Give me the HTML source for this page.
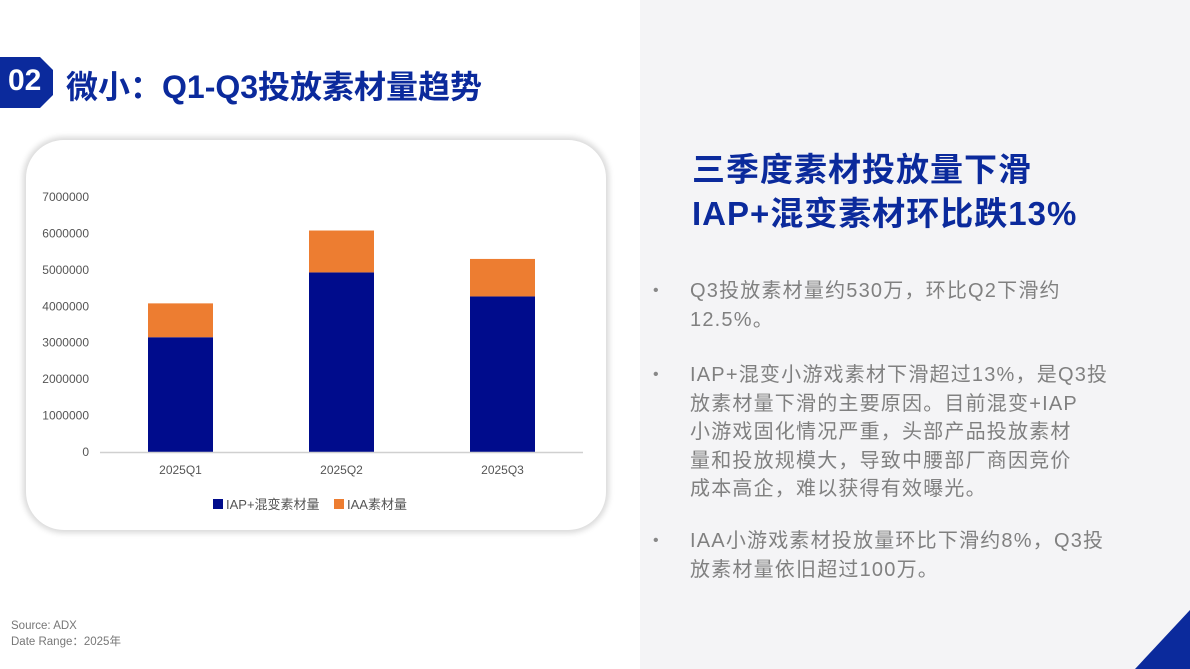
<!DOCTYPE html>
<html><head><meta charset="utf-8"><style>
body{margin:0;width:1190px;height:669px;overflow:hidden;background:#fff;font-family:"Liberation Sans","Noto Sans CJK SC",sans-serif;position:relative}
.abs{position:absolute;white-space:nowrap}
#right{position:absolute;left:640px;top:0;width:550px;height:669px;background:#f4f4f6}
.h{color:#0b2a9c;font-weight:bold;font-size:33px;letter-spacing:1px}
.b{color:#808080;font-size:20px;line-height:28.5px;letter-spacing:1.2px}
.dot{color:#888;font-size:16px}
</style></head><body>
<div id="right"></div>
<svg class="abs" style="left:0;top:0" width="1190" height="669">
<polygon points="0,57 40,57 53,70 53,95 40,108 0,108" fill="#0b2a9c"/>
<polygon points="1190,610 1190,669 1135,669" fill="#0b2a9c"/>
</svg>
<div class="abs" style="left:8px;top:64px;color:#fff;font-weight:bold;font-size:30px">02</div>
<div class="abs" style="left:66px;top:62px;color:#0b2a9c;font-weight:bold;font-size:32px">微小：Q1-Q3投放素材量趋势</div>

<div class="abs" style="left:26px;top:140px;width:580px;height:390px;border-radius:38px;background:#fff;box-shadow:0 0 6px 3px #d9d9d9"></div>
<svg id="chart" class="abs" style="left:0;top:0" width="640" height="560"></svg>

<div class="abs h" style="left:692px;top:143px">三季度素材投放量下滑</div>
<div class="abs h" style="left:692px;top:187px">IAP+混变素材环比跌13%</div>

<div class="abs dot" style="left:653px;top:282px">•</div>
<div class="abs b" style="left:690px;top:277px">Q3投放素材量约530万，环比Q2下滑约<br>12.5%。</div>
<div class="abs dot" style="left:653px;top:366px">•</div>
<div class="abs b" style="left:690px;top:361px">IAP+混变小游戏素材下滑超过13%，是Q3投<br>放素材量下滑的主要原因。目前混变+IAP<br>小游戏固化情况严重，头部产品投放素材<br>量和投放规模大，导致中腰部厂商因竞价<br>成本高企，难以获得有效曝光。</div>
<div class="abs dot" style="left:653px;top:532px">•</div>
<div class="abs b" style="left:690px;top:527px">IAA小游戏素材投放量环比下滑约8%，Q3投<br>放素材量依旧超过100万。</div>

<div class="abs" style="left:11px;top:618px;color:#777;font-size:11.5px;line-height:16px">Source: ADX<br>Date Range：2025年</div>

<script>
const categories=["2025Q1","2025Q2","2025Q3"];
const iapValues=[3150000,4930000,4270000];
const iaaValues=[930000,1150000,1030000];
const yTicks=[0,1000000,2000000,3000000,4000000,5000000,6000000,7000000];
const NS="http://www.w3.org/2000/svg";
const svg=document.getElementById('chart');
const y0=452,y7=197,x0=100,x1=583;
const y=v=>y0-(v/7000000)*(y0-y7);
const bw=65,step=(x1-x0)/categories.length;
const xc=i=>x0+step*(i+0.5);
function el(t,a){const e=document.createElementNS(NS,t);for(const k in a)e.setAttribute(k,a[k]);svg.appendChild(e);return e;}
yTicks.forEach(v=>{const t=el('text',{x:89,y:y(v)+4,'text-anchor':'end','font-size':12,fill:'#555','font-family':'Liberation Sans, sans-serif'});t.textContent=v;

});
categories.forEach((c,i)=>{
const a=el('rect',{x:xc(i)-bw/2,y:y(iapValues[i]),width:bw,height:y0-y(iapValues[i]),fill:'#000c8c'});


const b=el('rect',{x:xc(i)-bw/2,y:y(iapValues[i]+iaaValues[i]),width:bw,height:y(iapValues[i])-y(iapValues[i]+iaaValues[i]),fill:'#ed7d31'});


const t=el('text',{x:xc(i),y:474,'text-anchor':'middle','font-size':12,fill:'#555','font-family':'Liberation Sans, sans-serif'});t.textContent=c;


});
const ax=el('line',{x1:x0,x2:x1,y1:y0+0.5,y2:y0+0.5,stroke:'#d0d0d0','stroke-width':1.5});


const l1=el('rect',{x:213,y:499,width:10,height:10,fill:'#000c8c'});


const t1=el('text',{x:226,y:509,'font-size':13,fill:'#555','font-family':'Liberation Sans, Noto Sans CJK SC, sans-serif'});t1.textContent='IAP+混变素材量';


const l2=el('rect',{x:334,y:499,width:10,height:10,fill:'#ed7d31'});


const t2=el('text',{x:347,y:509,'font-size':13,fill:'#555','font-family':'Liberation Sans, Noto Sans CJK SC, sans-serif'});t2.textContent='IAA素材量';


</script>
</body></html>
